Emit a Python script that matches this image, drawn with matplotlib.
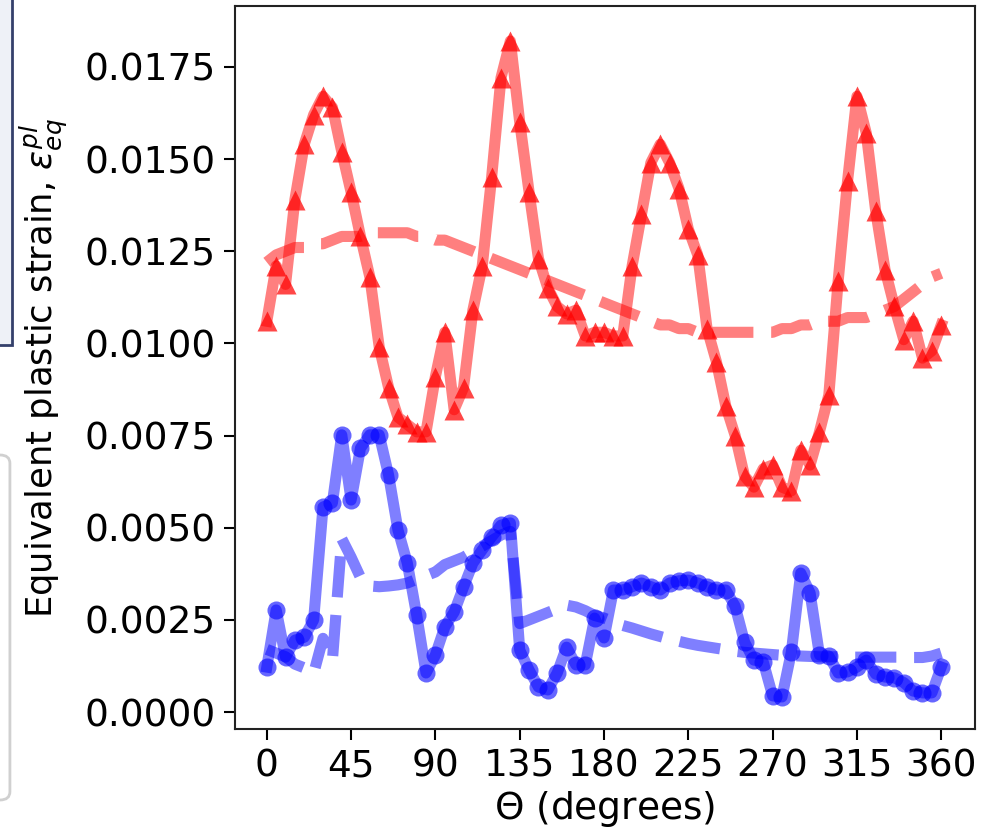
import numpy as np
import matplotlib
matplotlib.use("Agg")
import matplotlib.pyplot as plt
from matplotlib.patches import Rectangle, FancyBboxPatch

# angle around the hole, degrees (5 degree steps)
theta = np.arange(0, 361, 5)

# simulation, outer ring (red triangles)
red_sim = [0.0106, 0.0121, 0.0116, 0.0139, 0.0154, 0.0162, 0.0167, 0.0164, 0.0152, 0.0141,
           0.0129, 0.0118, 0.0099, 0.0088, 0.0080, 0.0078, 0.0076, 0.0076, 0.0091, 0.0103,
           0.0082, 0.0088, 0.0109, 0.0121, 0.0145, 0.0172, 0.0182, 0.0160, 0.0141, 0.0123,
           0.0115, 0.0110, 0.0108, 0.0109, 0.0102, 0.0103, 0.0103, 0.0102, 0.0102, 0.0121,
           0.0135, 0.0149, 0.0154, 0.0149, 0.0142, 0.0131, 0.0124, 0.0104, 0.0095, 0.0083,
           0.0075, 0.0064, 0.0061, 0.0066, 0.0067, 0.0061, 0.0060, 0.0071, 0.0067, 0.0076,
           0.0086, 0.0117, 0.0144, 0.0167, 0.0157, 0.0136, 0.0120, 0.0110, 0.0101, 0.0106,
           0.0096, 0.0098, 0.0105]

# model, outer ring (red dashed)
red_model = [0.0122, 0.0124, 0.0125, 0.0126, 0.0126, 0.0127, 0.0127, 0.0128, 0.0129, 0.0129,
             0.0129, 0.0130, 0.0130, 0.0130, 0.0130, 0.0130, 0.0129, 0.0129, 0.0128, 0.0128,
             0.0127, 0.0126, 0.0125, 0.0124, 0.0123, 0.0122, 0.0121, 0.0120, 0.0119, 0.0118,
             0.0117, 0.0116, 0.0115, 0.0114, 0.0113, 0.0112, 0.0111, 0.0110, 0.0109, 0.0108,
             0.0107, 0.0106, 0.0105, 0.0105, 0.0104, 0.0104, 0.0103, 0.0103, 0.0103, 0.0103,
             0.0103, 0.0103, 0.0103, 0.0103, 0.0103, 0.0104, 0.0104, 0.0105, 0.0105, 0.0106,
             0.0106, 0.0106, 0.0107, 0.0107, 0.0107, 0.0108, 0.0109, 0.0110, 0.0112, 0.0114,
             0.0116, 0.0118, 0.0119]

# simulation, inner ring (blue circles)
blue_sim = [0.00122, 0.00277, 0.00149, 0.00195, 0.00203, 0.00250, 0.00556, 0.00567, 0.00752, 0.00575,
            0.00716, 0.00752, 0.00752, 0.00643, 0.00494, 0.00404, 0.00263, 0.00106, 0.00155, 0.00231,
            0.00271, 0.00339, 0.00404, 0.00440, 0.00475, 0.00507, 0.00513, 0.00168, 0.00114, 0.00068,
            0.00060, 0.00106, 0.00176, 0.00128, 0.00128, 0.00255, 0.00201, 0.00331, 0.00331, 0.00340,
            0.00350, 0.00340, 0.00331, 0.00350, 0.00356, 0.00358, 0.00350, 0.00340, 0.00331, 0.00331,
            0.00287, 0.00190, 0.00141, 0.00136, 0.00044, 0.00041, 0.00163, 0.00377, 0.00323, 0.00155,
            0.00152, 0.00106, 0.00109, 0.00122, 0.00141, 0.00103, 0.00095, 0.00093, 0.00080, 0.00057,
            0.00052, 0.00052, 0.00122]

# model, inner ring (blue dashed)
blue_model = [0.00170, 0.00160, 0.00150, 0.00130, 0.00120, 0.00105, 0.00200, 0.00140, 0.00470, 0.00420,
              0.00365, 0.00342, 0.00340, 0.00342, 0.00345, 0.00350, 0.00360, 0.00370, 0.00380, 0.00400,
              0.00410, 0.00420, 0.00435, 0.00450, 0.00465, 0.00480, 0.00490, 0.00240, 0.00250, 0.00260,
              0.00270, 0.00280, 0.00290, 0.00285, 0.00275, 0.00262, 0.00255, 0.00245, 0.00235, 0.00228,
              0.00220, 0.00212, 0.00205, 0.00198, 0.00192, 0.00186, 0.00181, 0.00177, 0.00173, 0.00169,
              0.00165, 0.00162, 0.00160, 0.00158, 0.00156, 0.00154, 0.00153, 0.00152, 0.00151, 0.00150,
              0.00150, 0.00150, 0.00149, 0.00149, 0.00149, 0.00149, 0.00149, 0.00149, 0.00149, 0.00148,
              0.00148, 0.00152, 0.00160]

xticks = [0, 45, 90, 135, 180, 225, 270, 315, 360]
yticks = [0.0, 0.0025, 0.005, 0.0075, 0.01, 0.0125, 0.015, 0.0175]

if __name__ == '__main__':

    fig = plt.figure(figsize=(9.91, 8.33), dpi=100)
    ax = fig.add_axes([0.2371, 0.1248, 0.7467, 0.8680])

    fs = 27

    # thick translucent lines
    ax.plot(theta, red_sim, color="red", lw=8, alpha=0.5)
    ax.plot(theta, red_model, color="red", lw=8, alpha=0.5, ls="--")
    ax.plot(theta, blue_sim, color="blue", lw=8, alpha=0.5)
    ax.plot(theta, blue_model, color="blue", lw=8, alpha=0.5, ls="--")

    # markers on top
    ax.plot(theta, red_sim, ls="none", marker="^", ms=15, color="red", alpha=0.72, mec="none")
    ax.plot(theta, blue_sim, ls="none", marker="o", ms=13, color="blue", alpha=0.6, mec="none")

    ax.set_xlim(-17, 378)
    ax.set_ylim(-0.00046, 0.01915)
    ax.set_xticks(xticks)
    ax.set_xticklabels([str(t) for t in xticks])
    ax.set_yticks(yticks)
    ax.set_yticklabels(["%.4f" % t for t in yticks])
    ax.tick_params(labelsize=fs, length=8, width=1.5, pad=6)
    for s in ax.spines.values():
        s.set_linewidth(1.5)
        s.set_color("#222222")

    ax.set_xlabel(r"$\Theta$ (degrees)", fontsize=fs, labelpad=3)
    ax.set_ylabel(r"Equivalent plastic strain, $\varepsilon_{eq}^{pl}$", fontsize=25.5, labelpad=10)

    # bits of the surrounding page at the left edge
    fig.patches.append(Rectangle((-0.01, 1 - 345 / 833), 0.022, 345 / 833 + 0.01,
                                 transform=fig.transFigure, facecolor="#eef1f7",
                                 edgecolor="#34406b", lw=2))
    fig.patches.append(FancyBboxPatch((-0.02, 1 - 800 / 833), 0.03, 345 / 833,
                                      boxstyle="round,pad=0,rounding_size=0.01",
                                      transform=fig.transFigure, facecolor="white",
                                      edgecolor="#d0d0d0", lw=2))

    fig.savefig("out.png", dpi=100)
